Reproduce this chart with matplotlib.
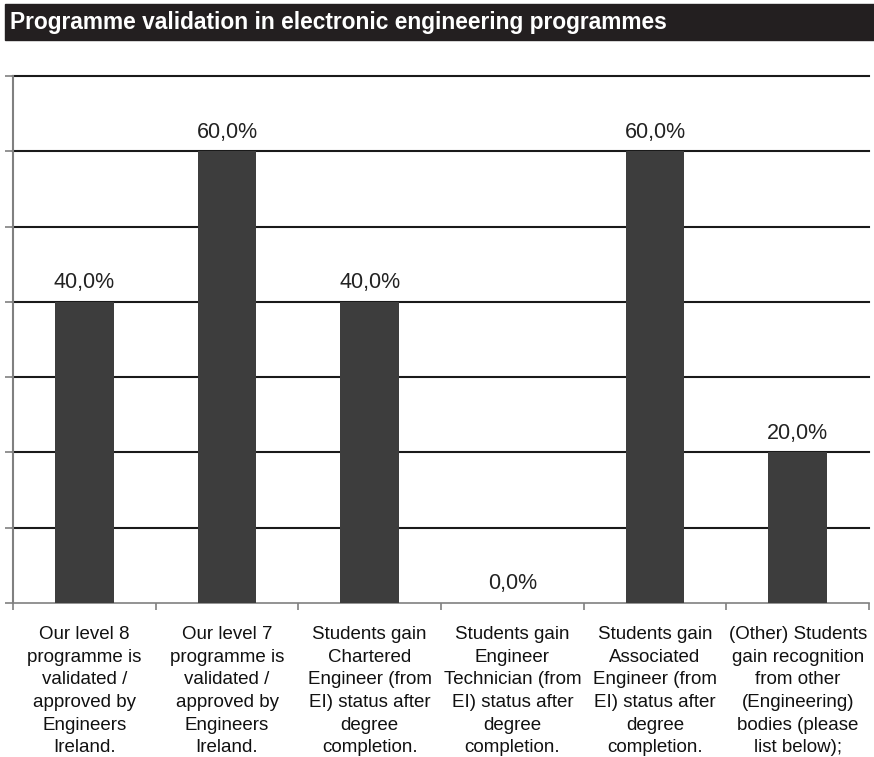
import matplotlib.pyplot as plt
from matplotlib.patches import Rectangle
from matplotlib.transforms import blended_transform_factory

# donnees
categories = [
    "Our level 8\nprogramme is\nvalidated /\napproved by\nEngineers\nIreland.",
    "Our level 7\nprogramme is\nvalidated /\napproved by\nEngineers\nIreland.",
    "Students gain\nChartered\nEngineer (from\nEI) status after\ndegree\ncompletion.",
    "Students gain\nEngineer\nTechnician (from\nEI) status after\ndegree\ncompletion.",
    "Students gain\nAssociated\nEngineer (from\nEI) status after\ndegree\ncompletion.",
    "(Other) Students\ngain recognition\nfrom other\n(Engineering)\nbodies (please\nlist below);",
]
valeurs = [40.0, 60.0, 40.0, 0.0, 60.0, 20.0]
titre = "Programme validation in electronic engineering programmes"

plt.rcParams['font.family'] = ['Liberation Sans', 'DejaVu Sans']

fig = plt.figure(figsize=(8.74, 7.57), dpi=100)

# bandeau du titre
fig.patches.append(Rectangle((5 / 874, 1 - 40 / 757), 869 / 874, 36 / 757,
                             transform=fig.transFigure, color="#231f20", zorder=0))
fig.text(10 / 874, 1 - 22 / 757, titre, color="white", fontsize=16.4,
         fontweight="bold", va="center", ha="left")

ax = fig.add_axes([13 / 874, 154 / 757, 856 / 874, 527 / 757])
x = list(range(len(valeurs)))
ax.bar(x, valeurs, width=0.41, color="#3d3d3d", zorder=3)

ax.set_xlim(-0.5, len(valeurs) - 0.5)
ax.set_ylim(0, 70)

# lignes horizontales
for v in range(10, 80, 10):
    ax.axhline(v, color="#1a1a1a", lw=1.5, zorder=2, clip_on=False)

for s in ["top", "right"]:
    ax.spines[s].set_visible(False)
ax.spines["left"].set_color("#808080")
ax.spines["left"].set_linewidth(1.5)
ax.spines["bottom"].set_color("#808080")
ax.spines["bottom"].set_linewidth(1.2)

ax.set_yticks(range(0, 80, 10))
ax.set_yticklabels([])
ax.set_xticks([i - 0.5 for i in range(len(valeurs) + 1)])
ax.set_xticklabels([])
ax.tick_params(axis="y", length=6, width=1.2, color="#808080", direction="out")
ax.tick_params(axis="x", length=5, width=1.2, color="#808080", direction="out")

# valeurs au dessus des barres
for i, v in enumerate(valeurs):
    ax.text(i, v + 2.55, f"{v:.1f}%".replace(".", ","), ha="center", va="center",
            fontsize=15.5, color="#222222")

# libelles des categories
trans = blended_transform_factory(ax.transData, ax.transAxes)
for i, c in enumerate(categories):
    ax.text(i, -0.044, c, transform=trans, ha="center", va="top",
            fontsize=13.5, linespacing=1.43, color="#111111")

fig.savefig("out.png", dpi=100)
